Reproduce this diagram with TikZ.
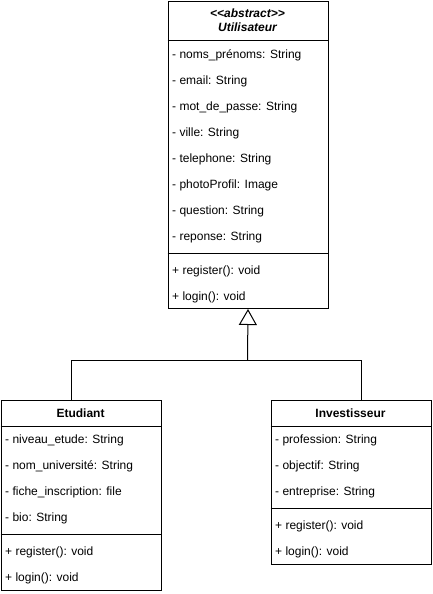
\documentclass[tikz,border=0pt]{standalone}
\usepackage{fontspec}
\setmainfont{Liberation Sans}
\usetikzlibrary{arrows.meta}
\newcommand{\fsz}{\fontsize{12pt}{14pt}\selectfont}
\tikzset{
  classbox/.style={draw=black, line width=1pt, anchor=north west, inner sep=0pt, minimum width=160pt, fill=white},
  sepline/.style={draw=black, line width=1pt},
  attr/.style={anchor=base west, inner sep=0pt, font=\fsz},
  hdr/.style={anchor=base, inner sep=0pt, font=\fsz\bfseries},
  conn/.style={draw=black, line width=1pt},
  inh/.style={conn, -{Triangle[open, width=18pt, length=16pt, line width=1pt]}}
}
\begin{document}
\begin{tikzpicture}[x=1pt, y=-1pt]
\useasboundingbox (0,0) rectangle (432,594);
% Utilisateur
\node[classbox, minimum height=307pt] (U) at (167.5,1) {};
\node[hdr, font=\fsz\bfseries\itshape] (uh1) at (247.5,17.5) {<\kern0pt<abstract>\kern0pt>};
\node[hdr, font=\fsz\bfseries\itshape] (uh2) at (247.5,31.5) {Utilisateur};
\draw[sepline] (U.west |- 0,41) -- (U.east |- 0,41);
\node[attr] (u1) at (172,58.5) {- noms\_prénoms: String};
\node[attr] (u2) at (172,84.5) {- email: String};
\node[attr] (u3) at (172,110.5) {- mot\_de\_passe: String};
\node[attr] (u4) at (172,136.5) {- ville: String};
\node[attr] (u5) at (172,162.5) {- telephone: String};
\node[attr] (u6) at (172,188.5) {- photoProfil: Image};
\node[attr] (u7) at (172,214.5) {- question: String};
\node[attr] (u8) at (172,240.5) {- reponse: String};
\draw[sepline] (U.west |- 0,253) -- (U.east |- 0,253);
\node[attr] (um1) at (172,274.5) {+ register(): void};
\node[attr] (um2) at (172,300.5) {+ login(): void};
% Etudiant
\node[classbox, minimum height=190pt] (E) at (0.5,400) {};
\node[hdr] (eh) at (80.5,417.5) {Etudiant};
\draw[sepline] (E.west |- 0,426) -- (E.east |- 0,426);
\node[attr] (e1) at (5,443.5) {- niveau\_etude: String};
\node[attr] (e2) at (5,469.5) {- nom\_université: String};
\node[attr] (e3) at (5,495.5) {- fiche\_inscription: file};
\node[attr] (e4) at (5,521.5) {- bio: String};
\draw[sepline] (E.west |- 0,534) -- (E.east |- 0,534);
\node[attr] (em1) at (5,555.5) {+ register(): void};
\node[attr] (em2) at (5,581.5) {+ login(): void};
% Investisseur
\node[classbox, minimum height=164pt] (I) at (270.5,400) {};
\node[hdr] (ih) at (350.5,417.5) {Investisseur};
\draw[sepline] (I.west |- 0,426) -- (I.east |- 0,426);
\node[attr] (i1) at (275,443.5) {- profession: String};
\node[attr] (i2) at (275,469.5) {- objectif: String};
\node[attr] (i3) at (275,495.5) {- entreprise: String};
\draw[sepline] (I.west |- 0,508) -- (I.east |- 0,508);
\node[attr] (im1) at (275,529.5) {+ register(): void};
\node[attr] (im2) at (275,555.5) {+ login(): void};
% inheritance
\coordinate (J) at (247.5,360.5);
\draw[conn] ([xshift=-10pt]E.north) |- (J);
\draw[conn] ([xshift=10pt]I.north) |- (J);
\draw[inh] (J) -- (U.south);
\end{tikzpicture}
\end{document}
